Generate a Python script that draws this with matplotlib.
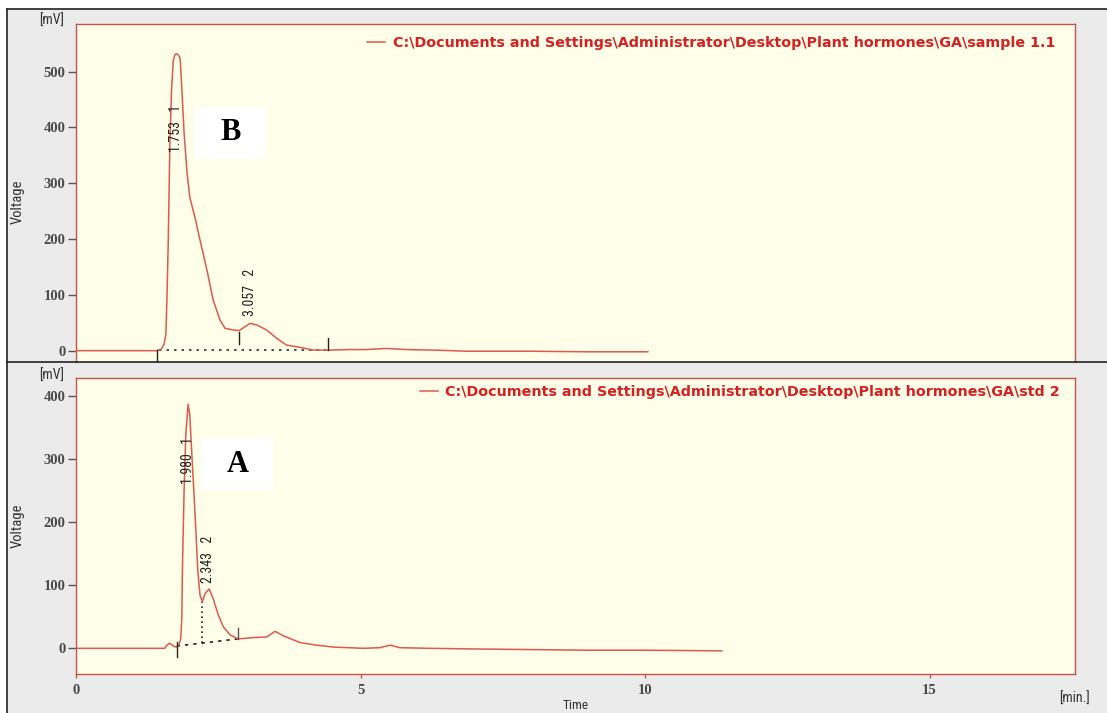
import matplotlib
matplotlib.use("Agg")
import matplotlib.pyplot as plt
from matplotlib.lines import Line2D
from matplotlib.patches import Rectangle

# ---------------- data ----------------
sample_time = [0.0, 1.42, 1.50, 1.55, 1.58, 1.60, 1.62, 1.65, 1.68, 1.71, 1.74, 1.77,
               1.80, 1.83, 1.86, 1.90, 1.95, 2.00, 2.05, 2.10, 2.18, 2.30, 2.41, 2.53,
               2.62, 2.77, 2.87, 2.97, 3.06, 3.18, 3.35, 3.53, 3.70, 3.94, 4.17, 4.43,
               4.80, 5.10, 5.46, 5.80, 6.30, 6.87, 8.00, 9.00, 10.05]
sample_mv = [0, 0, 3, 12, 30, 100, 190, 370, 470, 520, 531, 532,
             530, 524, 470, 390, 320, 275, 255, 235, 198, 145, 91, 55,
             40, 37, 36, 43, 49, 46, 37, 22, 10, 6, 1, 1,
             2, 2, 4, 2, 1, -1, -1, -2, -2]

std_time = [0.0, 1.56, 1.60, 1.64, 1.68, 1.72, 1.77, 1.81, 1.84, 1.86, 1.87, 1.90,
            1.93, 1.97, 2.00, 2.04, 2.07, 2.11, 2.14, 2.18, 2.22, 2.27, 2.34, 2.41,
            2.50, 2.59, 2.71, 2.85, 3.12, 3.35, 3.50, 3.64, 3.94, 4.23, 4.52, 5.05,
            5.34, 5.52, 5.69, 6.20, 7.00, 8.00, 9.00, 10.00, 11.35]
std_mv = [0, 0, 5, 8, 6, 3, 2, 6, 15, 50, 124, 251,
          340, 387, 370, 300, 251, 180, 124, 84, 74, 87, 94, 79,
          53, 34, 21, 15, 17, 18, 27, 20, 9, 5, 2, 0,
          1, 5, 1, 0, -1, -2, -3, -3, -4]

sample_rt = [1.753, 3.057]
sample_ids = ["1", "2"]
std_rt = [1.980, 2.343]
std_ids = ["1", "2"]

# integration baselines: (start time, start mV, end time, end mV), peak split time
sample_base = (1.42, 0.5, 4.43, 0.5)
sample_split = 2.87
std_base = (1.77, 3.6, 2.85, 15.0)
std_split = 2.22

sample_label = "C:\\Documents and Settings\\Administrator\\Desktop\\Plant hormones\\GA\\sample 1.1"
std_label = "C:\\Documents and Settings\\Administrator\\Desktop\\Plant hormones\\GA\\std 2"

xticks = [0, 5, 10, 15]
sample_yticks = [0, 100, 200, 300, 400, 500]
std_yticks = [0, 100, 200, 300, 400]

# ---------------- layout / style ----------------
W, H = 1107, 713
NARROW = ["Liberation Sans Narrow", "Roboto Condensed", "DejaVu Sans"]
SERIF = ["Liberation Serif", "DejaVu Serif"]
TRACE = "#dc5a4e"
SPINE = "#c8524a"
FACE = "#fefee9"
GRAY = "#ebebeb"

fig = plt.figure(figsize=(W / 100, H / 100), dpi=100)
fig.patch.set_facecolor("white")


def fx(px):
    return px / W


def fy(py):
    return 1 - py / H


fig.add_artist(Rectangle((fx(7), 0), 1 - fx(7), fy(9), transform=fig.transFigure,
                         facecolor=GRAY, edgecolor="none", zorder=-10))

ax1 = fig.add_axes([fx(76), fy(362), (1075 - 76) / W, (362 - 24) / H])
ax2 = fig.add_axes([fx(76), fy(674), (1075 - 76) / W, (674 - 378) / H])

for ax in (ax1, ax2):
    ax.set_facecolor(FACE)
    for s in ax.spines.values():
        s.set_color(SPINE)
        s.set_linewidth(1.0)
    ax.set_xlim(0, 17.557)
    ax.tick_params(axis="y", which="both", direction="out", length=6, width=1,
                   color="#555555", pad=1.5, labelsize=10.5, labelcolor="#4a4a4a")

ax1.set_ylim(-20.3, 585.5)
ax2.set_ylim(-40.7, 428.4)
ax1.spines["bottom"].set_visible(False)
ax1.set_xticks([])
ax1.set_yticks(sample_yticks)
ax2.set_yticks(std_yticks)
ax2.set_xticks(xticks)
ax2.tick_params(axis="x", direction="out", length=3, width=1, color=SPINE,
                pad=4, labelsize=10.5, labelcolor="#4a4a4a")
for ax in (ax1, ax2):
    for lab in ax.get_yticklabels() + ax.get_xticklabels():
        lab.set_family(SERIF)
        lab.set_fontweight("bold")

# traces
ax1.plot(sample_time, sample_mv, color=TRACE, lw=1.1, label=sample_label, zorder=3)
ax2.plot(std_time, std_mv, color=TRACE, lw=1.1, label=std_label, zorder=3)

# integration marks - sample
t0, y0, t1, y1 = sample_base
ax1.plot([t0 + 0.04, t1], [y0, y1], color="#333333", lw=1.2, ls=(0, (1.5, 3)), zorder=2)
ax1.plot([t0, t0], [y0, -25], color="#222222", lw=1, zorder=4)
ax1.plot([sample_split, sample_split], [12, 34], color="#222222", lw=1, zorder=4)
ax1.plot([t1, t1], [y1, 22], color="#222222", lw=1, zorder=4)

# integration marks - std
t0, y0, t1, y1 = std_base
ax2.plot([t0, t1], [y0, y1], color="#222222", lw=1.2, ls=(0, (2, 3)), zorder=2)
ax2.plot([t0, t0], [10, -14], color="#222222", lw=1, zorder=4)
ys = y0 + (y1 - y0) * (std_split - t0) / (t1 - t0)
ax2.plot([std_split, std_split], [ys, 74], color="#222222", lw=1.2, ls=(0, (1, 2)), zorder=2)
ax2.plot([t1, t1], [y1, 32], color="#555555", lw=1, zorder=4)

# peak labels
sample_lab_y = [356, 62]
std_lab_y = [261, 103]
for rt, pid, yy in zip(sample_rt, sample_ids, sample_lab_y):
    ax1.text(rt, yy, f"{rt:.3f}   {pid}", rotation=90, ha="center", va="bottom",
             fontsize=10, family=NARROW, color="#222222", zorder=5)
for rt, pid, yy in zip(std_rt, std_ids, std_lab_y):
    ax2.text(rt - 0.02, yy, f"{rt:.3f}   {pid}", rotation=90, ha="center", va="bottom",
             fontsize=10, family=NARROW, color="#222222", zorder=5)

# legends
for ax, anchor in ((ax1, (0.980, 0.944)), (ax2, (0.985, 0.953))):
    leg = ax.legend(loc="center right", bbox_to_anchor=anchor, frameon=False,
                    borderpad=0, borderaxespad=0, handlelength=1.3, handletextpad=0.5,
                    prop={"family": "DejaVu Sans", "weight": "bold", "size": 10.3})
    for t in leg.get_texts():
        t.set_color("#d42020")

# axis texts
fig.text(fx(52), fy(21), "[mV]", ha="center", va="center", fontsize=10,
         family=NARROW, color="#333333")
fig.text(fx(52), fy(376), "[mV]", ha="center", va="center", fontsize=10,
         family=NARROW, color="#333333")
fig.text(fx(18), fy(202), "Voltage", rotation=90, ha="center", va="center",
         fontsize=10.5, family=NARROW, color="#333333")
fig.text(fx(18), fy(526), "Voltage", rotation=90, ha="center", va="center",
         fontsize=10.5, family=NARROW, color="#333333")
fig.text(fx(1075), fy(699), "[min.]", ha="center", va="center", fontsize=10,
         family=NARROW, color="#333333")
fig.text(fx(576), fy(712), "Time", ha="center", va="bottom", fontsize=9.5,
         family=NARROW, color="#333333")

# A / B panel tags
for (x0, y0p, x1, y1p), letter in (((194, 107, 266, 159), "B"), ((201, 438, 273, 491), "A")):
    fig.add_artist(Rectangle((fx(x0), fy(y1p)), (x1 - x0) / W, (y1p - y0p) / H,
                             transform=fig.transFigure, facecolor="white",
                             edgecolor="none", zorder=5))
    fig.text(fx((x0 + x1) / 2 + 1), fy((y0p + y1p) / 2), letter, ha="center", va="center",
             fontsize=22, family=SERIF, fontweight="bold", color="black", zorder=6)

# screenshot frame lines
for xs, ys_ in (([7, W], [9, 9]), ([7, 7], [9, H]), ([7, W], [362, 362])):
    fig.add_artist(Line2D([fx(v) for v in xs], [fy(v) for v in ys_],
                          transform=fig.transFigure, color="#222222", lw=1.2, zorder=7))

fig.savefig("out.png", dpi=100, facecolor=fig.get_facecolor())
